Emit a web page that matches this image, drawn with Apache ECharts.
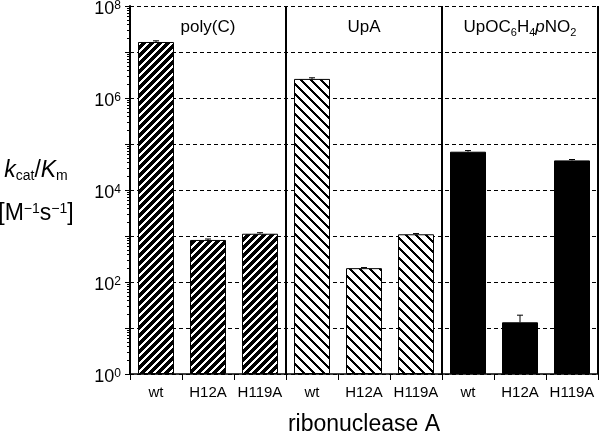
<!DOCTYPE html>
<html><head><meta charset="utf-8">
<script src="https://cdn.jsdelivr.net/npm/echarts@6/dist/echarts.min.js"></script>
<style>html,body{margin:0;padding:0;background:#fff}#c{width:600px;height:431px}</style>
</head><body><div id="c"></div>
<script>
// ---- data ----
const mutants = ['wt', 'H12A', 'H119A'];
const panels = ['poly(C)', 'UpA', 'UpOC6H4pNO2'];
const polyC = [1.65e7, 820, 1120];
const upA = [2.6e6, 200, 1090];
const upO = [6.8e4, 13.3, 4.4e4];
const polyCErr = [1.75e7, 860, 1180];
const upAErr = [2.75e6, 206, 1130];
const upOErr = [7.2e4, 19, 4.6e4];
const yLabelExponents = [0, 2, 4, 6, 8];

const FONT = '"Liberation Sans", Arial, Helvetica, sans-serif';

// crisp, seamless diagonal hatch tile
function stripes(period, width, dir) {
  const c = document.createElement('canvas');
  c.width = c.height = period;
  const g = c.getContext('2d');
  const img = g.createImageData(period, period);
  for (let y = 0; y < period; y++) {
    for (let x = 0; x < period; x++) {
      const t = dir === '/' ? (x + y) % period : ((x - y) % period + period) % period;
      const v = t < width ? 0 : 255;
      const o = (y * period + x) * 4;
      img.data[o] = img.data[o + 1] = img.data[o + 2] = v;
      img.data[o + 3] = 255;
    }
  }
  g.putImageData(img, 0, 0);
  return { image: c, repeat: 'repeat' };
}
const fills = [stripes(8, 5, '/'), stripes(10, 3, '\\'), '#000'];

const categories = [];
panels.forEach(() => mutants.forEach(m => categories.push(m)));
const groups = [[polyC, polyCErr], [upA, upAErr], [upO, upOErr]];
const barData = [], errData = [];
groups.forEach((g, p) => {
  g[0].forEach((v, i) => {
    barData.push({ value: v, itemStyle: { color: fills[p], borderColor: '#000', borderWidth: 1 } });
    errData.push([p * 3 + i, v, g[1][i]]);
  });
});

const minorTicks = [];
for (let e = 0; e < 8; e++) for (let m = 2; m <= 9; m++) minorTicks.push(m * Math.pow(10, e));

const chart = echarts.init(document.getElementById('c'), null, { renderer: 'canvas' });
const baseY = { type: 'log', logBase: 10, min: 1, max: 1e8, interval: 1 };
chart.setOption({
  animation: false,
  backgroundColor: '#fff',
  textStyle: { fontFamily: FONT, color: '#000' },
  grid: { left: 130, right: 2, top: 6, bottom: 57, containLabel: false, outerBoundsMode: 'none' },
  xAxis: [{
    type: 'category', data: categories, position: 'bottom',
    axisLine: { lineStyle: { color: '#000', width: 1.5 } },
    axisTick: { show: true, length: 6, lineStyle: { color: '#000', width: 1 } },
    axisLabel: { color: '#000', fontSize: 15, fontFamily: FONT, margin: 11, interval: 0 },
    splitLine: { show: false },
    name: 'ribonuclease A', nameLocation: 'middle', nameGap: 39,
    nameTextStyle: { fontSize: 23, fontFamily: FONT, color: '#000' }
  }, {
    type: 'category', data: panels, position: 'top',
    axisLine: { show: false }, axisTick: { show: false },
    axisLabel: {
      inside: true, margin: 10, interval: 0, color: '#000', fontSize: 17, lineHeight: 22, fontFamily: FONT,
      formatter: v => v === 'UpOC6H4pNO2' ? '{m|UpOC}{s|6}{m|H}{s|4}{i|p}{m|NO}{s|2}' : '{m|' + v + '}',
      rich: {
        m: { fontSize: 17, lineHeight: 22, fontFamily: FONT, color: '#000' },
        i: { fontSize: 17, lineHeight: 22, fontFamily: FONT, fontStyle: 'italic', color: '#000' },
        s: { fontSize: 11, lineHeight: 10, verticalAlign: 'bottom', fontFamily: FONT, color: '#000' }
      }
    },
    splitLine: { show: true, lineStyle: { color: '#000', width: 2, type: 'solid' } }
  }],
  yAxis: [Object.assign({}, baseY, {
    position: 'left',
    axisLine: { show: true, lineStyle: { color: '#000', width: 2 } },
    axisTick: { show: true, length: 5, lineStyle: { color: '#000', width: 1 } },
    axisLabel: {
      margin: 9, color: '#000', fontFamily: FONT, padding: [7, 0, 0, 0],
      formatter: v => {
        const e = Math.round(Math.log10(v));
        return yLabelExponents.indexOf(e) >= 0 ? '{b|10}{sup|' + e + '}' : '';
      },
      rich: {
        b: { fontSize: 18, lineHeight: 20, fontFamily: FONT, color: '#000' },
        sup: { fontSize: 12, lineHeight: 12, verticalAlign: 'top', fontFamily: FONT, color: '#000' }
      }
    },
    splitLine: { show: true, lineStyle: { color: '#000', width: 1, type: [4, 3] } },
    name: '{i|k}{sub|cat}{n|/}{i|K}{sub|m}\n{gap| }\n{n|[M}{sup|−1}{n|s}{sup|−1}{n|]}',
    nameLocation: 'middle', nameRotate: 0, nameGap: 94,
    nameTextStyle: {
      align: 'center', verticalAlign: 'middle', padding: [5, 0, 0, 0],
      rich: {
        i: { fontSize: 23, lineHeight: 24, fontStyle: 'italic', fontFamily: FONT, color: '#000' },
        n: { fontSize: 23, lineHeight: 24, fontFamily: FONT, color: '#000' },
        sub: { fontSize: 14, lineHeight: 14, verticalAlign: 'bottom', fontFamily: FONT, color: '#000' },
        sup: { fontSize: 14, lineHeight: 14, verticalAlign: 'top', fontFamily: FONT, color: '#000' },
        gap: { fontSize: 10, lineHeight: 19 }
      }
    }
  }), Object.assign({}, baseY, {
    position: 'left',
    axisLine: { show: false },
    axisTick: { show: true, inside: true, length: 4, lineStyle: { color: '#000', width: 1 } },
    axisLabel: { show: false }, splitLine: { show: false }
  }), Object.assign({}, baseY, {
    position: 'left',
    axisLine: { show: false },
    axisTick: { show: true, length: 3, customValues: minorTicks, lineStyle: { color: '#000', width: 1 } },
    axisLabel: { show: false }, splitLine: { show: false }
  })],
  series: [{
    type: 'bar', xAxisIndex: 0, yAxisIndex: 0, barWidth: 36, data: barData, z: 2
  }, {
    type: 'custom', xAxisIndex: 0, yAxisIndex: 0, z: 3, data: errData,
    encode: { x: 0, y: [1, 2] },
    renderItem: (params, api) => {
      const x = api.value(0);
      const p0 = api.coord([x, api.value(1)]);
      const p1 = api.coord([x, api.value(2)]);
      const st = { stroke: '#000', lineWidth: 1 };
      return {
        type: 'group', children: [
          { type: 'line', shape: { x1: p0[0], y1: p0[1], x2: p1[0], y2: p1[1] }, style: st },
          { type: 'line', shape: { x1: p1[0] - 3, y1: p1[1], x2: p1[0] + 3, y2: p1[1] }, style: st }
        ]
      };
    }
  }]
});
</script>
</body></html>
